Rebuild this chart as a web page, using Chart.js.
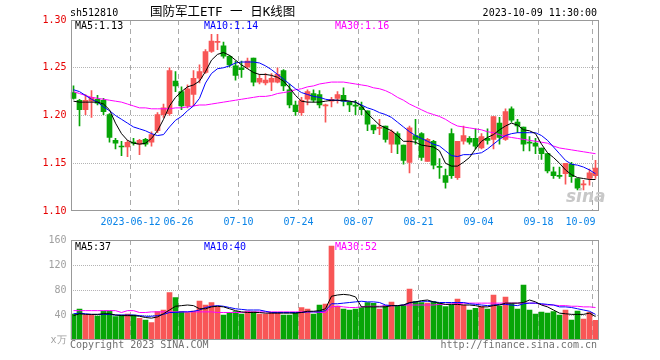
<!DOCTYPE html>
<html>
<head>
<meta charset="utf-8">
<script src="https://cdn.jsdelivr.net/npm/chart.js"></script>
<style>
  body { margin: 0; background: #fff; }
  #wrap { position: relative; width: 660px; height: 360px; overflow: hidden;
          font-family: 'DejaVu Sans Mono', monospace; font-size: 10px; line-height: 12px; }
  #wrap canvas { position: absolute; left: 0; }
  .t { position: absolute; white-space: pre; }
</style>
</head>
<body>
<div id="wrap">
  <canvas id="kline" width="660" height="230" style="top:0"></canvas>
  <canvas id="vol" width="660" height="135" style="top:225px"></canvas>

  <div class="t" style="left:70px;top:7px;color:#000">sh512810</div>
  <div class="t" style="left:150px;top:4px;font-size:12.5px;line-height:15px;font-family:'DejaVu Sans Mono','Noto Sans CJK SC';color:#000">国防军工ETF 一 日K线图</div>
  <div class="t" style="right:63px;top:7px;color:#000">2023-10-09 11:30:00</div>

  <div class="t" style="left:75px;top:20px;color:#000">MA5:1.13</div>
  <div class="t" style="left:204px;top:20px;color:#0000ff">MA10:1.14</div>
  <div class="t" style="left:335px;top:20px;color:#ff00ff">MA30:1.16</div>
  <div class="t" style="left:566px;top:186px;font:italic bold 17px 'DejaVu Sans';color:#c8c8c8">sina</div>

  <div class="t" style="left:75px;top:241px;color:#000">MA5:37</div>
  <div class="t" style="left:204px;top:241px;color:#0000ff">MA10:40</div>
  <div class="t" style="left:335px;top:241px;color:#ff00ff">MA30:52</div>

  <div class="t" style="left:70px;top:339px;color:#707070">Copyright 2023 SINA.COM</div>
  <div class="t" style="right:63px;top:339px;color:#707070">http://finance.sina.com.cn</div>
</div>

<script>
// 交易日
const dates = [
  '2023-05-29','2023-05-30','2023-05-31','2023-06-01','2023-06-02','2023-06-05','2023-06-06','2023-06-07','2023-06-08','2023-06-09',
  '2023-06-12','2023-06-13','2023-06-14','2023-06-15','2023-06-16','2023-06-19','2023-06-20','2023-06-21','2023-06-26','2023-06-27',
  '2023-06-28','2023-06-29','2023-06-30','2023-07-03','2023-07-04','2023-07-05','2023-07-06','2023-07-07','2023-07-10','2023-07-11',
  '2023-07-12','2023-07-13','2023-07-14','2023-07-17','2023-07-18','2023-07-19','2023-07-20','2023-07-21','2023-07-24','2023-07-25',
  '2023-07-26','2023-07-27','2023-07-28','2023-07-31','2023-08-01','2023-08-02','2023-08-03','2023-08-04','2023-08-07','2023-08-08',
  '2023-08-09','2023-08-10','2023-08-11','2023-08-14','2023-08-15','2023-08-16','2023-08-17','2023-08-18','2023-08-21','2023-08-22',
  '2023-08-23','2023-08-24','2023-08-25','2023-08-28','2023-08-29','2023-08-30','2023-08-31','2023-09-01','2023-09-04','2023-09-05',
  '2023-09-06','2023-09-07','2023-09-08','2023-09-11','2023-09-12','2023-09-13','2023-09-14','2023-09-15','2023-09-18','2023-09-19',
  '2023-09-20','2023-09-21','2023-09-22','2023-09-25','2023-09-26','2023-09-27','2023-09-28','2023-10-09'
];
const tickDates = ['2023-06-12','2023-06-26','2023-07-10','2023-07-24','2023-08-07','2023-08-21','2023-09-04','2023-09-18','2023-10-09'];

// K线 开 高 低 收
const open = [
  1.224,1.216,1.206,1.215,1.217,1.216,1.201,1.174,1.168,1.167,
  1.172,1.170,1.175,1.172,1.184,1.201,1.202,1.236,1.225,1.210,
  1.222,1.239,1.245,1.267,1.2765,1.273,1.262,1.252,1.250,1.251,
  1.260,1.235,1.234,1.235,1.235,1.247,1.227,1.211,1.203,1.217,
  1.223,1.222,1.210,1.215,1.218,1.221,1.214,1.2102,1.209,1.205,
  1.190,1.1865,1.189,1.170,1.181,1.169,1.151,1.179,1.181,1.152,
  1.173,1.1462,1.137,1.181,1.135,1.173,1.176,1.176,1.166,1.176,
  1.175,1.192,1.175,1.207,1.193,1.188,1.1714,1.171,1.166,1.160,
  1.141,1.1366,1.139,1.149,1.134,1.1273,1.134,1.137
];
const high = [
  1.231,1.217,1.222,1.226,1.221,1.218,1.202,1.176,1.173,1.174,
  1.176,1.175,1.176,1.183,1.203,1.212,1.250,1.246,1.230,1.232,
  1.247,1.253,1.269,1.285,1.285,1.277,1.263,1.257,1.257,1.260,
  1.260,1.243,1.244,1.244,1.250,1.248,1.233,1.215,1.219,1.227,
  1.227,1.226,1.212,1.219,1.225,1.229,1.214,1.216,1.214,1.205,
  1.190,1.196,1.189,1.185,1.183,1.169,1.189,1.196,1.182,1.176,
  1.174,1.155,1.144,1.186,1.173,1.189,1.178,1.186,1.181,1.186,
  1.199,1.198,1.207,1.209,1.196,1.188,1.178,1.176,1.166,1.160,
  1.146,1.146,1.150,1.151,1.134,1.132,1.144,1.153
];
const low = [
  1.217,1.189,1.201,1.198,1.211,1.201,1.172,1.165,1.158,1.157,
  1.169,1.159,1.168,1.168,1.182,1.198,1.200,1.225,1.206,1.208,
  1.210,1.234,1.244,1.266,1.269,1.260,1.251,1.237,1.240,1.249,
  1.231,1.233,1.232,1.226,1.234,1.226,1.208,1.200,1.200,1.211,
  1.214,1.208,1.193,1.209,1.213,1.210,1.204,1.201,1.201,1.184,
  1.181,1.180,1.172,1.161,1.160,1.149,1.140,1.170,1.153,1.152,
  1.144,1.134,1.124,1.134,1.133,1.170,1.170,1.165,1.165,1.170,
  1.165,1.170,1.174,1.193,1.182,1.163,1.163,1.160,1.154,1.140,
  1.134,1.134,1.128,1.130,1.122,1.122,1.127,1.134
];
const close = [
  1.218,1.206,1.216,1.219,1.213,1.204,1.177,1.171,1.167,1.172,
  1.171,1.174,1.170,1.180,1.201,1.208,1.247,1.231,1.210,1.228,
  1.239,1.246,1.267,1.278,1.2772,1.262,1.253,1.242,1.248,1.257,
  1.235,1.239,1.237,1.239,1.243,1.231,1.211,1.204,1.216,1.225,
  1.216,1.211,1.211,1.217,1.222,1.215,1.211,1.2098,1.206,1.191,
  1.185,1.1872,1.175,1.183,1.170,1.153,1.187,1.175,1.156,1.175,
  1.148,1.1456,1.130,1.137,1.173,1.179,1.172,1.168,1.178,1.174,
  1.199,1.177,1.204,1.195,1.189,1.170,1.171,1.168,1.160,1.142,
  1.137,1.1363,1.150,1.136,1.124,1.1277,1.140,1.145
];
const ma5 = [
  1.215,1.214,1.214,1.214,1.214,1.212,1.206,1.192,1.181,1.174,
  1.171,1.170,1.171,1.176,1.184,1.196,1.210,1.219,1.225,1.230,
  1.232,1.236,1.246,1.258,1.264,1.266,1.263,1.258,1.253,1.249,
  1.245,1.243,1.243,1.242,1.240,1.236,1.229,1.221,1.215,1.214,
  1.214,1.214,1.215,1.216,1.216,1.216,1.215,1.214,1.210,1.202,
  1.196,1.190,1.187,1.184,1.179,1.173,1.173,1.172,1.169,1.168,
  1.167,1.163,1.150,1.147,1.147,1.151,1.156,1.165,1.173,1.177,
  1.180,1.185,1.189,1.192,1.190,1.185,1.184,1.181,1.170,1.161,
  1.156,1.150,1.143,1.138,1.135,1.134,1.133,1.133
];
const ma10 = [
  1.227,1.225,1.221,1.217,1.214,1.209,1.205,1.200,1.196,1.192,
  1.188,1.186,1.184,1.181,1.179,1.180,1.188,1.195,1.199,1.205,
  1.210,1.218,1.234,1.244,1.249,1.250,1.252,1.255,1.256,1.256,
  1.256,1.255,1.252,1.248,1.243,1.238,1.233,1.228,1.224,1.222,
  1.220,1.219,1.217,1.216,1.216,1.215,1.215,1.214,1.211,1.208,
  1.206,1.203,1.201,1.198,1.193,1.188,1.183,1.179,1.176,1.173,
  1.170,1.168,1.163,1.158,1.157,1.159,1.159,1.160,1.161,1.165,
  1.170,1.175,1.179,1.181,1.182,1.182,1.182,1.182,1.179,1.174,
  1.167,1.160,1.153,1.149,1.148,1.146,1.143,1.139
];
const ma30 = [
  1.225,1.223,1.221,1.219,1.218,1.217,1.216,1.215,1.214,1.212,
  1.210,1.208,1.208,1.207,1.207,1.207,1.207,1.208,1.208,1.209,
  1.210,1.211,1.211,1.212,1.213,1.214,1.215,1.216,1.217,1.218,
  1.219,1.220,1.220,1.221,1.223,1.224,1.225,1.227,1.228,1.230,
  1.231,1.233,1.234,1.235,1.235,1.235,1.234,1.233,1.232,1.231,
  1.229,1.228,1.226,1.223,1.219,1.216,1.212,1.209,1.206,1.203,
  1.201,1.199,1.196,1.192,1.189,1.188,1.187,1.186,1.185,1.183,
  1.182,1.180,1.178,1.177,1.176,1.175,1.174,1.173,1.172,1.171,
  1.168,1.166,1.165,1.164,1.163,1.162,1.161,1.160
];

// 成交量 (万)
const vol = [
  41.6,49.6,40,40,38.4,46.4,46.4,37.3,40,41.6,
  40,34.7,32,27.7,45.3,48,75.7,67.7,45.3,43.7,
  46.4,62.4,56,59.7,53.3,40,43.7,45.3,41.6,46.4,
  45.3,41.6,41.6,44.3,44.3,40,40,42.7,51.7,49.6,
  41.6,56,57.6,150.4,54.4,49.6,48,49.6,51.7,59.7,
  58.7,49.6,54.9,60.8,53.9,56,81.6,61.3,59.7,59.2,
  61.3,58.7,53.3,56,65.6,56,48,50.7,53.3,49.6,
  72,54.4,68.8,58.7,49.6,88,48,41.6,44.8,43.2,
  45.3,40,48,32,46.4,33.6,44.3,31.5
];
const vma5 = [
  39,42,41,41,41,42,42,40,39,39,
  39,38,36,35,37,42,48,54,55,56,
  55,50,50,53,54,53,50,47,45,44,
  44,44,43,43,43,43,43,43,44,46,
  46,47,50,70,72,73,72,69,53,53,
  53,53,53,55,55,56,60,61,63,64,
  61,59,57,57,57,56,56,55,53,53,
  55,56,59,59,59,60,64,61,56,53,
  48,43,42,41,41,41,43,37.5
];
const vma10 = [
  42,43,42,41,41,41,41,40,40,40,
  40,39,38,38,39,41,44,44,45,45,
  46,48,52,54,55,54,52,50,49,48,
  48,48,46,44,44,44,44,44,44,45,
  45,45,47,58,58,59,60,61,62,61,
  61,60,56,55,55,56,59,61,62,62,
  61,60,60,60,60,60,58,57,56,55,
  56,57,57,56,55,58,59,59,58,57,
  56,53,53,52,50,48,46,41
];
const vma30 = [
  47,47,47,47,47,47,47,47,44,47,
  47,44,44,45,45,45,45,45,45,45,
  45,45,45,45,44,44,44,44,44,45,
  45,45,45,45,45,45,45,45,45,45,
  45,44,44,53,54,53,52,52,53,54,
  54,54,55,55,55,56,56,56,56,56,
  56,57,57,58,58,59,59,59,59,59,
  59,59,59,59,59,59,59,59,57,56,
  56,55,55,54,54,53,53,52
];

const priceTicks = [1.10, 1.15, 1.20, 1.25, 1.30];
const volTicks = [0, 40, 80, 120, 160];

const UP = '#f85656', DOWN = '#07a507';
const candleColor = close.map((c, i) => c >= open[i] ? UP : DOWN);
const MONO = 'DejaVu Sans Mono';

Chart.defaults.font.family = MONO;
Chart.defaults.font.size = 10;

// 外框
const frame = {
  id: 'frame',
  afterDraw(chart) {
    const { ctx, chartArea: a } = chart;
    ctx.save();
    ctx.strokeStyle = '#999';
    ctx.lineWidth = 1;
    ctx.strokeRect(Math.round(a.left) + 0.5, Math.round(a.top) + 0.5,
                   Math.round(a.right - a.left) - 1, Math.round(a.bottom - a.top) - 1);
    ctx.restore();
  }
};

function xAxis(showLabels, h) {
  return {
    type: 'category',
    offset: true,
    grid: {
      offset: true,
      drawTicks: false,
      color: c => tickDates.includes(dates[c.index]) ? '#aaa' : 'rgba(0,0,0,0)'
    },
    border: { display: false, dash: [5, 4] },
    ticks: {
      display: showLabels,
      autoSkip: false,
      maxRotation: 0,
      minRotation: 0,
      padding: 5,
      labelOffset: -3,
      color: '#0a84e8',
      callback: (v, i) => {
        const d = dates[i];
        const k = tickDates.indexOf(d);
        if (k < 0) return '';
        if (k === 0) return d;
        if (k === tickDates.length - 1) return d.slice(5) + '    ';
        return d.slice(5);
      }
    },
    afterFit: s => { s.height = h; }
  };
}

function yAxis(ticks, color, fmt) {
  return {
    min: ticks[0],
    max: ticks[ticks.length - 1],
    afterBuildTicks: s => { s.ticks = ticks.map(v => ({ value: v })); },
    grid: {
      drawTicks: false,
      color: c => (c.index > 0 && c.index < ticks.length - 1) ? '#b4b4b4' : 'rgba(0,0,0,0)'
    },
    border: { display: false, dash: [1, 1] },
    ticks: { color, padding: 4, callback: fmt },
    afterFit: s => { s.width = 70.5; }
  };
}

function maLine(data, color) {
  return {
    type: 'line', data, borderColor: color, borderWidth: 1,
    pointRadius: 0, fill: false, tension: 0, order: 0
  };
}

new Chart(document.getElementById('kline'), {
  type: 'bar',
  data: {
    labels: dates,
    datasets: [
      maLine(ma5, '#000000'),
      maLine(ma10, '#0000ff'),
      maLine(ma30, '#ff00ff'),
      {
        data: open.map((o, i) => [Math.min(o, close[i]), Math.max(o, close[i])]),
        backgroundColor: candleColor,
        barThickness: 5, grouped: false, minBarLength: 1, order: 1
      },
      {
        data: low.map((l, i) => [l, high[i]]),
        backgroundColor: candleColor,
        barThickness: 1, grouped: false, order: 2
      }
    ]
  },
  options: {
    responsive: false,
    animation: false,
    layout: { padding: { top: 20, right: 61.5, bottom: 0, left: 0 } },
    scales: {
      x: xAxis(true, 19),
      y: yAxis(priceTicks, '#e60000', v => v.toFixed(2))
    },
    plugins: { legend: { display: false }, tooltip: { enabled: false } }
  },
  plugins: [frame]
});

new Chart(document.getElementById('vol'), {
  type: 'bar',
  data: {
    labels: dates,
    datasets: [
      maLine(vma5, '#000000'),
      maLine(vma10, '#0000ff'),
      maLine(vma30, '#ff00ff'),
      {
        data: vol,
        backgroundColor: candleColor,
        barThickness: 5, grouped: false, order: 1
      }
    ]
  },
  options: {
    responsive: false,
    animation: false,
    layout: { padding: { top: 15, right: 61.5, bottom: 0, left: 0 } },
    scales: {
      x: xAxis(false, 20),
      y: yAxis(volTicks, '#a0a0a0', v => v === 0 ? 'x万' : String(v))
    },
    plugins: { legend: { display: false }, tooltip: { enabled: false } }
  },
  plugins: [frame]
});
</script>
</body>
</html>
